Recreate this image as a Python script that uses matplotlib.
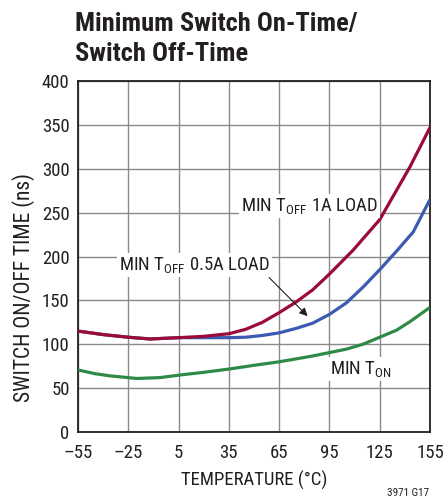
import matplotlib
matplotlib.use("Agg")
import matplotlib.pyplot as plt

FONT = "Roboto Condensed"
plt.rcParams['font.family'] = [FONT, 'DejaVu Sans']
plt.rcParams['mathtext.fontset'] = 'custom'
plt.rcParams['mathtext.rm'] = FONT
plt.rcParams['mathtext.it'] = FONT
plt.rcParams['mathtext.bf'] = FONT + ":bold"

# Data (temperature in degC, time in ns)
temp_1a = [-55, -40, -25, -12, 5, 20, 35, 45, 55, 65, 75, 85, 95, 109, 125, 143, 155]
toff_1a = [115, 111, 108, 106, 107.5, 109, 112, 117, 125, 136, 148, 162, 180, 207, 242, 302, 347]

temp_05a = [-55, -40, -25, -12, 5, 20, 35, 45, 55, 65, 75, 85, 95, 105, 115, 125, 135, 145, 155]
toff_05a = [115, 111, 108, 106, 107.5, 107.5, 107.5, 108, 110, 113, 118, 124, 134, 147, 165, 185, 206, 228, 265]

temp_on = [-55, -45, -36, -20, -6, 6, 20, 36, 50, 65, 85, 105, 115, 125, 135, 143, 155]
ton = [70.7, 66.5, 64, 61, 62, 65, 68, 72, 76, 80, 86.6, 94.4, 100, 108, 116, 125.7, 142]

xticks = [-55, -25, 5, 35, 65, 95, 125, 155]
xticklabels = ["\u201355", "\u201325", "5", "35", "65", "95", "125", "155"]
yticks = [0, 50, 100, 150, 200, 250, 300, 350, 400]

fig = plt.figure(figsize=(4.45, 5.0), dpi=100)
ax = fig.add_axes([0.1753, 0.136, 0.7910, 0.702])

ax.plot(temp_05a, toff_05a, color="#3b5bb3", lw=2.3, solid_capstyle="butt", zorder=3)
ax.plot(temp_1a, toff_1a, color="#9c0a36", lw=2.3, solid_capstyle="butt", zorder=4)
ax.plot(temp_on, ton, color="#2f8a48", lw=2.3, solid_capstyle="butt", zorder=3)

ax.set_xlim(-55, 155)
ax.set_ylim(0, 400)
ax.set_xticks(xticks)
ax.set_xticklabels(xticklabels)
ax.set_yticks(yticks)
ax.grid(True, color="#8a8a8a", lw=1.0)
ax.set_axisbelow(True)
ax.tick_params(axis="both", length=0, labelsize=13.5, colors="#231f20")
ax.tick_params(axis="x", pad=9)
ax.tick_params(axis="y", pad=6)
for s in ax.spines.values():
    s.set_linewidth(1.3)
    s.set_color("#231f20")

ax.set_xlabel("TEMPERATURE (\u00b0C)", fontsize=13.5, color="#231f20", labelpad=6)
ax.set_ylabel("SWITCH ON/OFF TIME (ns)", fontsize=15.5, color="#231f20")
ax.yaxis.set_label_coords(-0.122, 0.413)

bbox = dict(facecolor="white", edgecolor="none", pad=1.5)
ax.text(42, 258, r"MIN T$_{\mathrm{OFF}}$ 1A LOAD", fontsize=13.5, color="#231f20",
        va="center", ha="left", bbox=bbox, zorder=5)
ax.text(-30.5, 190, r"MIN T$_{\mathrm{OFF}}$ 0.5A LOAD", fontsize=13.5, color="#231f20",
        va="center", ha="left", bbox=bbox, zorder=5)
ax.text(95.5, 72, r"MIN T$_{\mathrm{ON}}$", fontsize=13.5, color="#231f20",
        va="center", ha="left", bbox=bbox, zorder=5)
ax.annotate("", xy=(82, 132), xytext=(59, 176),
            arrowprops=dict(arrowstyle="-|>", color="#231f20", lw=0.8,
                            mutation_scale=12, shrinkA=0, shrinkB=0), zorder=6)

fig.text(0.168, 0.976, "Minimum Switch On-Time/\nSwitch Off-Time", fontsize=19,
         fontweight="bold", color="#231f20", va="top", ha="left", linespacing=1.3)
fig.text(0.965, 0.004, "3971 G17", fontsize=8, color="#231f20", ha="right", va="bottom")

fig.savefig("out.png", dpi=100)
